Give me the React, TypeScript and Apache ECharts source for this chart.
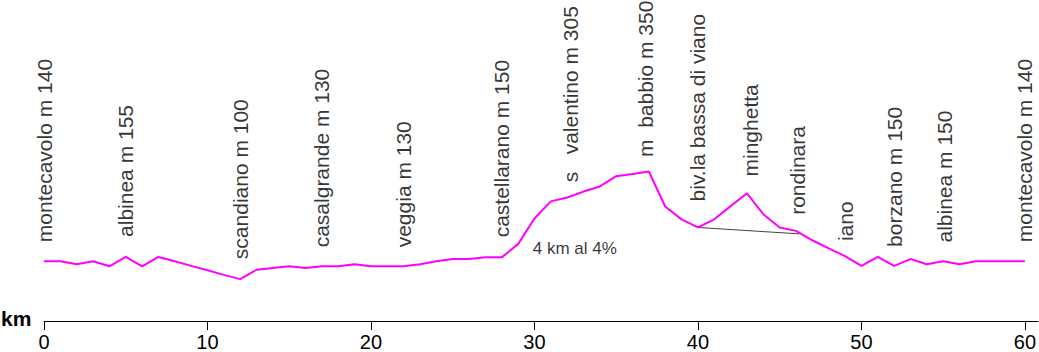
import React, { useEffect, useRef } from "react";
import * as echarts from "echarts";

// distance (km) and elevation (m) of the profile
const profileKm = [
  0, 1, 2, 3, 4, 5, 6, 7, 8, 9, 10, 11, 12, 13, 14, 15, 16, 17, 18, 19, 20,
  21, 22, 23, 24, 25, 26, 27, 28, 29, 30, 31, 32, 33, 34, 35, 36, 37, 38, 39,
  40, 41, 42, 43, 44, 45, 46, 47, 48, 49, 50, 51, 52, 53, 54, 55, 56, 57, 58,
  59, 60,
];
const profileElev = [
  140, 140, 133, 140, 128, 150, 128, 150, 140, 129, 119, 108, 98, 120, 124,
  128, 124, 128, 128, 133, 128, 128, 128, 133, 140, 145, 145, 149, 149, 180,
  240, 280, 289, 303, 315, 339, 344, 350, 268, 238, 219, 238, 269, 299, 250,
  219, 211, 189, 170, 152, 129, 150, 129, 145, 133, 140, 133, 140, 140, 140,
  140,
];

// thin connector line (km, m)
const connectorKm = [40, 46.2];
const connectorElev = [219, 204];

// place names
const placeNames = [
  "montecavolo m 140",
  "albinea m 155",
  "scandiano m 100",
  "casalgrande m 130",
  "veggia m 130",
  "castellarano m 150",
  "s\u00a0\u00a0\u00a0valentino m 305",
  "m\u00a0\u00a0babbio m 350",
  "biv.la bassa di viano",
  "minghetta",
  "rondinara",
  "iano",
  "borzano m 150",
  "albinea m 150",
  "montecavolo m 140",
];
const placeKm = [0, 5, 12, 17, 22, 28, 32.2, 36.8, 40, 43.2, 46.1, 49, 52, 55.1, 60];
const placeGap = [19, 20, 20, 19, 19, 20, 14, 15, 26, 21, 17, 15, 19, 19, 19];

// annotation
const noteText = "4 km al 4%";
const noteKm = 29.9;
const noteElev = 170;

const xTicks = [0, 10, 20, 30, 40, 50, 60];

function elevAt(km: number): number {
  for (let i = 0; i < profileKm.length - 1; i++) {
    if (km >= profileKm[i] && km <= profileKm[i + 1]) {
      const t = (km - profileKm[i]) / (profileKm[i + 1] - profileKm[i]);
      return profileElev[i] + t * (profileElev[i + 1] - profileElev[i]);
    }
  }
  return profileElev[profileElev.length - 1];
}

const FONT = "Arial, 'Liberation Sans', sans-serif";

export default function App() {
  const ref = useRef<HTMLDivElement>(null);
  useEffect(() => {
    document.body.style.margin = "0";
    if (!ref.current) return;
    const chart = echarts.init(ref.current, undefined, { renderer: "svg" });
    chart.setOption({
      animation: false,
      backgroundColor: "#ffffff",
      grid: { left: 44, right: 1, top: 22, bottom: 30 },
      xAxis: {
        type: "value",
        min: 0,
        max: 60.8,
        interval: 10,
        splitLine: { show: false },
        axisLine: { show: true, lineStyle: { color: "#000", width: 1 } },
        axisTick: {
          show: true,
          length: 9,
          lineStyle: { color: "#000", width: 1 },
          customValues: xTicks,
        },
        axisLabel: {
          color: "#000",
          fontFamily: FONT,
          fontSize: 20,
          margin: 11,
          customValues: xTicks,
        },
      },
      yAxis: {
        type: "value",
        min: 0,
        max: 700,
        show: false,
        splitLine: { show: false },
      },
      graphic: [
        {
          type: "text",
          left: 1,
          top: 308,
          style: {
            text: "km",
            font: `bold 21px ${FONT}`,
            fill: "#000",
          },
        },
      ],
      series: [
        {
          type: "line",
          data: connectorKm.map((k, i) => [k, connectorElev[i]]),
          symbol: "none",
          lineStyle: { color: "#444", width: 1 },
          silent: true,
          z: 1,
        },
        {
          type: "line",
          data: profileKm.map((k, i) => [k, profileElev[i]]),
          symbol: "none",
          lineStyle: { color: "#ff00ff", width: 2 },
          silent: true,
          z: 2,
        },
        {
          type: "scatter",
          symbolSize: 0,
          silent: true,
          data: placeNames.map((n, i) => ({
            value: [placeKm[i], elevAt(placeKm[i])],
            name: n,
            label: { distance: placeGap[i] },
          })),
          label: {
            show: true,
            position: "top",
            rotate: 90,
            align: "left",
            verticalAlign: "middle",
            formatter: (p: any) => p.name,
            color: "#000",
            fontFamily: FONT,
            fontSize: 21,
          },
          z: 3,
        },
        {
          type: "scatter",
          symbolSize: 0,
          silent: true,
          data: [{ value: [noteKm, noteElev], name: noteText }],
          label: {
            show: true,
            position: "right",
            distance: 0,
            formatter: (p: any) => p.name,
            color: "#000",
            fontFamily: FONT,
            fontSize: 17,
          },
          z: 3,
        },
      ],
    });
    return () => chart.dispose();
  }, []);
  return <div ref={ref} style={{ width: 1039, height: 352 }} />;
}
